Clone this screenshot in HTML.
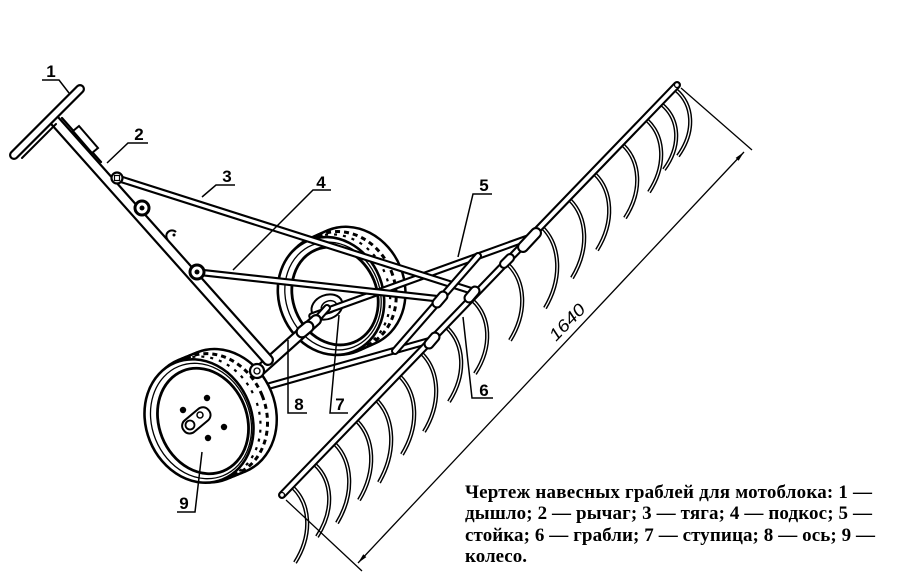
<!DOCTYPE html>
<html><head><meta charset="utf-8"><style>
html,body{margin:0;padding:0;background:#fff;}
svg{display:block}
</style></head><body>
<svg width="924" height="584" viewBox="0 0 924 584" xmlns="http://www.w3.org/2000/svg">
<defs>
<ellipse id="e2" rx="52" ry="60" transform="rotate(-22)"/>
<ellipse id="e9" rx="53" ry="63" transform="rotate(-22)"/>
</defs>
<rect width="924" height="584" fill="#fff"/>

<!-- ===== Wheel behind (wheel 2) ===== -->
<g stroke="#000" stroke-width="5" fill="none">
 <use href="#e2" x="351" y="287"/>
 <use href="#e2" x="347.7" y="288.5"/>
 <use href="#e2" x="344.3" y="290"/>
 <use href="#e2" x="341" y="291.5"/>
 <use href="#e2" x="337.7" y="293"/>
 <use href="#e2" x="334.3" y="294.5"/>
</g>
<g fill="#fff" stroke="none">
 <use href="#e2" x="351" y="287"/>
 <use href="#e2" x="347.7" y="288.5"/>
 <use href="#e2" x="344.3" y="290"/>
 <use href="#e2" x="341" y="291.5"/>
 <use href="#e2" x="337.7" y="293"/>
 <use href="#e2" x="334.3" y="294.5"/>
</g>
<use href="#e2" x="343" y="290.5" fill="none" stroke="#000" stroke-width="3" stroke-dasharray="5 4"/>
<use href="#e2" x="337" y="293.3" fill="none" stroke="#000" stroke-width="2.2" stroke-dasharray="3 6" stroke-dashoffset="4"/>
<use href="#e2" x="331" y="296" fill="#fff" stroke="#000" stroke-width="2.6"/>
<ellipse cx="333" cy="296" rx="47" ry="55" transform="rotate(-22 333 296)" fill="none" stroke="#000" stroke-width="1.3"/>
<ellipse cx="335" cy="296" rx="42" ry="50" transform="rotate(-22 335 296)" fill="none" stroke="#000" stroke-width="2.8"/>
<ellipse cx="327" cy="307" rx="16" ry="12" transform="rotate(-22 327 307)" fill="#fff" stroke="#000" stroke-width="2"/>
<ellipse cx="329" cy="307" rx="8" ry="6" transform="rotate(-22 329 307)" fill="none" stroke="#000" stroke-width="1.5"/>

<!-- ===== Rods ===== -->
<g stroke-linecap="round">
 <line x1="312" y1="316" x2="531" y2="237" stroke="#000" stroke-width="7.5"/>
 <line x1="312" y1="316" x2="531" y2="237" stroke="#fff" stroke-width="3.3"/>
 <line x1="197" y1="272" x2="440" y2="299" stroke="#000" stroke-width="7.5"/>
 <line x1="197" y1="272" x2="440" y2="299" stroke="#fff" stroke-width="3.3"/>
 <line x1="117" y1="178" x2="472" y2="291" stroke="#000" stroke-width="7.5"/>
 <line x1="117" y1="178" x2="472" y2="291" stroke="#fff" stroke-width="3.3"/>
 <line x1="262" y1="388" x2="432" y2="340" stroke="#000" stroke-width="7.5"/>
 <line x1="262" y1="388" x2="432" y2="340" stroke="#fff" stroke-width="3.3"/>
 <line x1="318" y1="318" x2="327" y2="308" stroke="#000" stroke-width="8"/>
 <line x1="318" y1="318" x2="327" y2="308" stroke="#fff" stroke-width="3.8"/>
 <line x1="258" y1="372" x2="316" y2="320" stroke="#000" stroke-width="12"/>
 <line x1="258" y1="372" x2="316" y2="320" stroke="#fff" stroke-width="7.6"/>
 <line x1="302" y1="332" x2="308" y2="327" stroke="#000" stroke-width="13"/>
 <line x1="302" y1="332" x2="308" y2="327" stroke="#fff" stroke-width="8.6"/>
 <line x1="55" y1="121" x2="268" y2="360" stroke="#000" stroke-width="12"/>
 <line x1="55" y1="121" x2="268" y2="360" stroke="#fff" stroke-width="7.6"/>
 <line x1="62" y1="118" x2="101" y2="162" stroke="#000" stroke-width="2.2"/>
 <polygon points="73,131 79,126 98,148 92,153" fill="#fff" stroke="#000" stroke-width="2"/>
 <line x1="14" y1="155" x2="80" y2="89" stroke="#000" stroke-width="10"/>
 <line x1="14" y1="155" x2="80" y2="89" stroke="#fff" stroke-width="5.6"/>
 <line x1="22" y1="158" x2="56" y2="124" stroke="#000" stroke-width="2"/>
</g>
<circle cx="117" cy="178" r="5.5" fill="#fff" stroke="#000" stroke-width="2.2"/>
<rect x="114.5" y="175.5" width="5" height="5" fill="none" stroke="#000" stroke-width="1.2"/>
<circle cx="142" cy="208" r="7" fill="#fff" stroke="#000" stroke-width="3"/>
<circle cx="142" cy="208" r="2.5" fill="#000"/>
<path d="M168,240 A5,5 0 0 1 176,232" fill="#fff" stroke="#000" stroke-width="2"/>
<circle cx="174" cy="235" r="1.5" fill="#000"/>
<circle cx="197" cy="272" r="7" fill="#fff" stroke="#000" stroke-width="3"/>
<circle cx="197" cy="272" r="2.5" fill="#000"/>

<!-- ===== Tines ===== -->
<g fill="none">
 <g stroke="#000" stroke-width="4.2">
  <path d="M293,487.6 C310,504.1 313,534.1 295,562.6"/>
  <path d="M315,464.7 C332,480.5 335,509.3 317,536.7"/>
  <path d="M335,444 C352,461.4 355,493 337,523"/>
  <path d="M357,421.1 C374,438.5 377,470.1 359,500.1"/>
  <path d="M377,400.4 C394,418.4 397,451.2 379,482.4"/>
  <path d="M400,376.5 C417,393.7 420,424.9 402,454.5"/>
  <path d="M422,353.7 C439,370.9 442,402.1 424,431.7"/>
  <path d="M447,327.7 C464,344 467,373.6 449,401.7"/>
  <path d="M473,300.7 C490,316.8 493,346 475,373.7"/>
  <path d="M508,264.4 C525,281.1 528,311.5 510,340.4"/>
  <path d="M543,228.1 C560,245.7 563,277.7 545,308.1"/>
  <path d="M570,200 C587,217.2 590,248.4 572,278"/>
  <path d="M595,174.1 C612,190.8 615,221.2 597,250.1"/>
  <path d="M623,145 C640,161.1 643,190.3 625,218"/>
  <path d="M647,120.1 C664,135.9 667,164.7 649,192.1"/>
  <path d="M662,104.6 C679,118.9 682,144.9 664,169.6"/>
  <path d="M676,90 C693,104.5 696,130.9 678,156"/>
 </g>
 <g stroke="#fff" stroke-width="1.3">
  <path d="M293,487.6 C310,504.1 313,534.1 295,562.6"/>
  <path d="M315,464.7 C332,480.5 335,509.3 317,536.7"/>
  <path d="M335,444 C352,461.4 355,493 337,523"/>
  <path d="M357,421.1 C374,438.5 377,470.1 359,500.1"/>
  <path d="M377,400.4 C394,418.4 397,451.2 379,482.4"/>
  <path d="M400,376.5 C417,393.7 420,424.9 402,454.5"/>
  <path d="M422,353.7 C439,370.9 442,402.1 424,431.7"/>
  <path d="M447,327.7 C464,344 467,373.6 449,401.7"/>
  <path d="M473,300.7 C490,316.8 493,346 475,373.7"/>
  <path d="M508,264.4 C525,281.1 528,311.5 510,340.4"/>
  <path d="M543,228.1 C560,245.7 563,277.7 545,308.1"/>
  <path d="M570,200 C587,217.2 590,248.4 572,278"/>
  <path d="M595,174.1 C612,190.8 615,221.2 597,250.1"/>
  <path d="M623,145 C640,161.1 643,190.3 625,218"/>
  <path d="M647,120.1 C664,135.9 667,164.7 649,192.1"/>
  <path d="M662,104.6 C679,118.9 682,144.9 664,169.6"/>
  <path d="M676,90 C693,104.5 696,130.9 678,156"/>
 </g>
</g>

<!-- ===== Stoika + rake bar ===== -->
<g stroke-linecap="round">
 <line x1="395" y1="351" x2="478" y2="256" stroke="#000" stroke-width="8"/>
 <line x1="395" y1="351" x2="478" y2="256" stroke="#fff" stroke-width="3.8"/>
 <line x1="437" y1="303" x2="443" y2="296" stroke="#000" stroke-width="11"/>
 <line x1="437" y1="303" x2="443" y2="296" stroke="#fff" stroke-width="6.8"/>
 <line x1="282" y1="495" x2="677" y2="85" stroke="#000" stroke-width="8"/>
 <line x1="282" y1="495" x2="677" y2="85" stroke="#fff" stroke-width="3.8"/>
 <line x1="429" y1="344" x2="435" y2="337" stroke="#000" stroke-width="11"/>
 <line x1="429" y1="344" x2="435" y2="337" stroke="#fff" stroke-width="6.8"/>
 <line x1="469" y1="298" x2="475" y2="291" stroke="#000" stroke-width="11"/>
 <line x1="469" y1="298" x2="475" y2="291" stroke="#fff" stroke-width="6.8"/>
 <line x1="504" y1="264" x2="510" y2="258" stroke="#000" stroke-width="10"/>
 <line x1="504" y1="264" x2="510" y2="258" stroke="#fff" stroke-width="5.8"/>
 <line x1="523" y1="247" x2="536" y2="233" stroke="#000" stroke-width="12"/>
 <line x1="523" y1="247" x2="536" y2="233" stroke="#fff" stroke-width="7.8"/>
</g>
<circle cx="282" cy="495" r="2.5" fill="none" stroke="#000" stroke-width="1.3"/>
<circle cx="677" cy="85" r="2.5" fill="none" stroke="#000" stroke-width="1.3"/>

<!-- ===== Front wheel 9 ===== -->
<g stroke="#000" stroke-width="5" fill="none">
 <use href="#e9" x="221" y="412"/>
 <use href="#e9" x="217.3" y="413.5"/>
 <use href="#e9" x="213.7" y="415"/>
 <use href="#e9" x="210" y="416.5"/>
 <use href="#e9" x="206.3" y="418"/>
 <use href="#e9" x="202.7" y="419.5"/>
</g>
<g fill="#fff" stroke="none">
 <use href="#e9" x="221" y="412"/>
 <use href="#e9" x="217.3" y="413.5"/>
 <use href="#e9" x="213.7" y="415"/>
 <use href="#e9" x="210" y="416.5"/>
 <use href="#e9" x="206.3" y="418"/>
 <use href="#e9" x="202.7" y="419.5"/>
</g>
<use href="#e9" x="213" y="415.3" fill="none" stroke="#000" stroke-width="3" stroke-dasharray="5 4"/>
<use href="#e9" x="206" y="418.2" fill="none" stroke="#000" stroke-width="2.2" stroke-dasharray="3 6" stroke-dashoffset="4"/>
<use href="#e9" x="199" y="421" fill="#fff" stroke="#000" stroke-width="2.6"/>
<ellipse cx="201" cy="421" rx="49" ry="59" transform="rotate(-22 201 421)" fill="none" stroke="#000" stroke-width="1.3"/>
<ellipse cx="203" cy="421" rx="44" ry="54" transform="rotate(-22 203 421)" fill="none" stroke="#000" stroke-width="2.8"/>
<circle cx="207" cy="398" r="3.2" fill="#000"/>
<circle cx="183" cy="410" r="3.2" fill="#000"/>
<circle cx="224" cy="427" r="3.2" fill="#000"/>
<circle cx="208" cy="438" r="3.2" fill="#000"/>
<rect x="180" y="413" width="32" height="15" rx="7" transform="rotate(-40 196 420)" fill="#fff" stroke="#000" stroke-width="2"/>
<circle cx="190" cy="425" r="4.5" fill="#fff" stroke="#000" stroke-width="1.8"/>
<circle cx="200" cy="415" r="3" fill="none" stroke="#000" stroke-width="1.5"/>
<circle cx="257" cy="371" r="7" fill="#fff" stroke="#000" stroke-width="2.2"/>
<circle cx="257" cy="371" r="3" fill="none" stroke="#000" stroke-width="1.3"/>

<!-- ===== Labels ===== -->
<g font-family="Liberation Sans, sans-serif" font-weight="bold" font-size="17" text-anchor="middle" fill="#000">
 <text x="51" y="77">1</text>
 <text x="139" y="140">2</text>
 <text x="227" y="182">3</text>
 <text x="321" y="188">4</text>
 <text x="484" y="191">5</text>
 <text x="484" y="396">6</text>
 <text x="340" y="410">7</text>
 <text x="299" y="410">8</text>
 <text x="184" y="509">9</text>
</g>
<g fill="none" stroke="#000" stroke-width="1.5">
 <path d="M42,80 L59,80 L69,93"/>
 <path d="M148,143 L128,143 L107,163"/>
 <path d="M235,185 L216,185 L202,197"/>
 <path d="M331,190 L313,190 L233,270"/>
 <path d="M492,194 L473,194 L458,257"/>
 <path d="M463,317 L472,398 L493,398"/>
 <path d="M339,315 L330,413 L348,413"/>
 <path d="M288,340 L288,413 L307,413"/>
 <path d="M202,452 L195,512 L177,512"/>
</g>

<!-- ===== Dimension ===== -->
<g stroke="#000" stroke-width="1.3" fill="none">
 <line x1="286" y1="500" x2="362" y2="571"/>
 <line x1="681" y1="88" x2="752" y2="150"/>
 <line x1="358" y1="563" x2="744" y2="152"/>
</g>
<polygon points="744,152 738.6,160.7 735.7,157.9" fill="#000"/>
<polygon points="358,563 366.3,557.1 363.3,554.3" fill="#000"/>
<text x="0" y="0" transform="translate(556,342) rotate(-46)" font-family="Liberation Sans, sans-serif" font-style="italic" font-size="17" textLength="44" lengthAdjust="spacingAndGlyphs" fill="#000">1640</text>

<!-- ===== Caption ===== -->
<g font-family="Liberation Serif, 'Noto Serif CJK SC', serif" font-weight="bold" font-size="19" fill="#000">
 <text x="465" y="498" textLength="407" lengthAdjust="spacing">Чертеж навесных граблей для мотоблока: 1 —</text>
 <text x="465" y="519" textLength="407" lengthAdjust="spacing">дышло; 2 — рычаг; 3 — тяга; 4 — подкос; 5 —</text>
 <text x="465" y="541" textLength="410" lengthAdjust="spacing">стойка; 6 — грабли; 7 — ступица; 8 — ось; 9 —</text>
 <text x="465" y="562">колесо.</text>
</g>
</svg>
</body></html>
